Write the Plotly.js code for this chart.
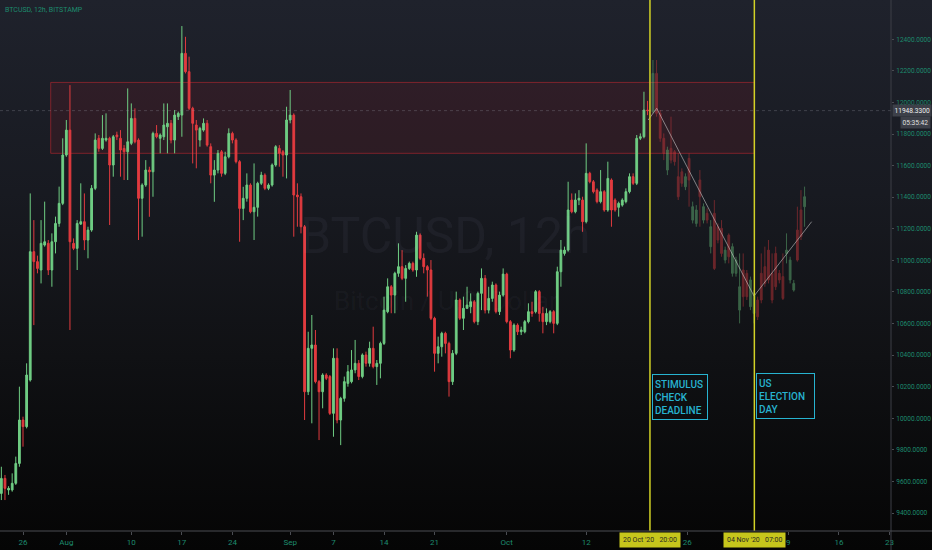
<!DOCTYPE html>
<html>
<head>
<meta charset="utf-8">
<script src="https://cdn.plot.ly/plotly-3.0.1.min.js"></script>
<style>
  html, body { margin: 0; padding: 0; background: #000; }
  #chart { width: 932px; height: 550px;
    background: linear-gradient(to bottom, #1f222c 0%, #181a21 35%, #101114 65%, #050505 100%); }
</style>
</head>
<body>
<div id="chart"></div>
<script>
// ---------- DATA (BITSTAMP BTCUSD, 12h bars, first bar 2020-07-23 00:00) ----------
const barOpen = [
  9524, 9619, 9546, 9546, 9588, 9714, 9989, 9947, 10242, 11055,
  10992, 10939, 11097, 11108, 10939, 11118, 11234, 11361, 11667, 11825,
  11108, 11076, 11230, 11245, 11129, 11192, 11456, 11773, 11709, 11762,
  11773, 11604, 11794, 11773, 11709, 11688, 11741, 11899, 11762, 11393,
  11477, 11572, 11561, 11804, 11773, 11783, 11846, 11868, 11762, 11910,
  11920, 12311, 12195, 11963, 11857, 11762, 11825, 11868, 11720, 11540,
  11572, 11688, 11551, 11656, 11804, 11762, 11625, 11329, 11393, 11477,
  11308, 11336, 11488, 11540, 11456, 11477, 11604, 11709, 11688, 11667,
  11889, 11920, 11414, 11403, 11213, 10168, 10443, 10464, 10232, 10168,
  10274, 10264, 10031, 10380, 9989, 10126, 10221, 10232, 10306, 10348,
  10264, 10401, 10348, 10443, 10327, 10348, 10474, 10675, 10833, 10780,
  10918, 10960, 10886, 10949, 10981, 10939, 11160, 11013, 10960, 10939,
  10633, 10411, 10453, 10538, 10474, 10232, 10411, 10749, 10633, 10696,
  10706, 10738, 10612, 10791, 10886, 10685, 10759, 10844, 10675, 10780,
  10913, 10612, 10432, 10590, 10548, 10548, 10612, 10675, 10675, 10802,
  10664, 10612, 10612, 10675, 10601, 10928, 11044, 11065, 11382, 11308,
  11382, 11382, 11245, 11551, 11498, 11445, 11372, 11435, 11319, 11509,
  11382, 11336, 11350, 11372, 11435, 11530, 11488, 11773, 11783, 11952
];
const barHigh = [
  9693, 9641, 9570, 9651, 9757, 10200, 10010, 10348, 11424, 11255,
  11030, 11255, 11372, 11129, 11171, 11277, 11467, 11773, 11889, 12110,
  11139, 11255, 11488, 11424, 11213, 11477, 11804, 11794, 11920, 11931,
  11783, 11794, 11815, 11825, 11730, 12089, 11994, 11963, 11773, 11488,
  11635, 11593, 11815, 11857, 11804, 11994, 11994, 11889, 11952, 11942,
  12484, 12416, 12290, 11973, 11889, 11846, 11899, 11889, 11741, 11635,
  11699, 11699, 11688, 11836, 11815, 11773, 11635, 11466, 11551, 11488,
  11614, 11498, 11561, 11551, 11488, 11614, 11730, 11730, 11699, 11973,
  12079, 11931, 11488, 11424, 11224, 10548, 10654, 10559, 10242, 10285,
  10285, 10274, 10443, 10443, 10136, 10264, 10337, 10432, 10496, 10369,
  10411, 10422, 10485, 10580, 10369, 10485, 10770, 10886, 10844, 10928,
  11108, 11065, 10970, 10992, 10992, 11181, 11171, 11044, 10970, 11002,
  10643, 10517, 10548, 10548, 10485, 10432, 10802, 10759, 10770, 10833,
  10791, 10749, 10802, 10949, 10907, 10833, 10865, 10854, 10802, 10949,
  10922, 10622, 10601, 10601, 10580, 10622, 10728, 10738, 10812, 10812,
  10706, 10696, 10685, 10685, 10960, 11129, 11087, 11498, 11424, 11424,
  11445, 11403, 11741, 11561, 11509, 11456, 11572, 11445, 11625, 11519,
  11393, 11372, 11393, 11456, 11551, 11551, 11794, 11804, 12068, 12010
];
const barLow = [
  9482, 9482, 9515, 9535, 9578, 9693, 9820, 9936, 10232, 10590,
  10918, 10854, 11087, 10907, 10833, 11044, 11213, 11350, 11656, 10559,
  11065, 10939, 11224, 11065, 11013, 11181, 11445, 11688, 11699, 11752,
  11224, 11530, 11762, 11530, 11509, 11509, 11730, 11741, 11129, 11150,
  11466, 11276, 11403, 11773, 11678, 11762, 11678, 11741, 11678, 11889,
  11783, 12184, 11952, 11614, 11583, 11720, 11815, 11720, 11488, 11371,
  11551, 11530, 11540, 11646, 11741, 11614, 11118, 11255, 11372, 11298,
  11129, 11277, 11477, 11445, 11445, 11467, 11593, 11593, 11530, 11519,
  11868, 11150, 11213, 11171, 9989, 10147, 9968, 10221, 9862, 10063,
  10242, 10021, 9883, 9968, 9830, 10105, 10200, 10221, 10285, 10242,
  10253, 10327, 10327, 10316, 10211, 10253, 10464, 10665, 10665, 10665,
  10896, 10875, 10738, 10939, 10928, 10896, 11002, 10918, 10770, 10622,
  10295, 10348, 10390, 10411, 10137, 10211, 10400, 10622, 10559, 10696,
  10665, 10601, 10590, 10685, 10664, 10664, 10738, 10664, 10654, 10770,
  10601, 10380, 10421, 10527, 10527, 10538, 10601, 10643, 10664, 10612,
  10538, 10590, 10601, 10538, 10590, 10833, 11030, 11055, 11298, 11298,
  11350, 11181, 11234, 11488, 11424, 11361, 11361, 11308, 11308, 11213,
  11308, 11277, 11340, 11361, 11424, 11477, 11477, 11762, 11773, 11920
];
const barClose = [
  9619, 9556, 9556, 9588, 9714, 9989, 9947, 10274, 11055, 10992,
  10949, 11108, 11118, 10939, 11118, 11234, 11361, 11667, 11825, 11118,
  11076, 11234, 11245, 11129, 11192, 11456, 11762, 11709, 11773, 11773,
  11604, 11783, 11783, 11699, 11688, 11751, 11899, 11751, 11393, 11477,
  11572, 11561, 11804, 11783, 11794, 11857, 11868, 11762, 11920, 11931,
  12311, 12195, 11963, 11868, 11825, 11836, 11868, 11730, 11540, 11572,
  11678, 11551, 11656, 11804, 11762, 11625, 11329, 11393, 11477, 11308,
  11336, 11488, 11540, 11456, 11477, 11604, 11720, 11678, 11667, 11889,
  11920, 11414, 11403, 11213, 10168, 10443, 10464, 10232, 10168, 10274,
  10253, 10031, 10380, 9989, 10126, 10232, 10295, 10306, 10348, 10264,
  10401, 10348, 10443, 10327, 10348, 10474, 10685, 10833, 10780, 10918,
  10960, 10886, 10949, 10981, 10939, 11160, 11013, 10960, 10939, 10633,
  10411, 10453, 10538, 10474, 10232, 10411, 10749, 10633, 10696, 10717,
  10738, 10612, 10791, 10886, 10685, 10759, 10844, 10675, 10780, 10913,
  10612, 10432, 10590, 10548, 10559, 10612, 10675, 10664, 10802, 10664,
  10612, 10664, 10675, 10601, 10928, 11065, 11065, 11319, 11308, 11382,
  11393, 11245, 11551, 11498, 11435, 11372, 11435, 11319, 11519, 11319,
  11319, 11361, 11382, 11435, 11530, 11488, 11773, 11783, 11952, 11948.33
];

// Bars-pattern projection (faded), first bar 2020-10-21 06:00
const projOpen = [11941, 12184, 11931, 11773, 11572, 11709, 11688, 11530, 11561, 11466, 11646, 11255, 11234, 11509, 11255, 11298, 11087, 11298, 11213, 11203, 11002, 11160, 10918, 10918, 10685, 10939, 10918, 10707, 10664, 10749, 10918, 10960, 11065, 10918, 11044, 10918, 10897, 11044, 10876, 10812, 11192, 11319, 11340];
const projHigh = [12269, 12269, 11952, 11804, 11720, 11910, 11699, 11678, 11583, 11551, 11678, 11372, 11350, 11572, 11361, 11329, 11255, 11382, 11234, 11255, 11087, 11171, 11108, 11023, 11044, 11044, 10939, 10897, 10812, 10770, 11044, 11087, 11129, 11044, 11087, 10939, 11044, 11171, 11023, 10876, 11340, 11445, 11467];
const projLow = [11931, 11910, 11751, 11635, 11540, 11614, 11600, 11382, 11466, 11445, 11340, 11234, 11213, 11213, 11234, 11234, 11044, 10939, 11108, 11023, 10981, 10981, 10897, 10897, 10601, 10707, 10749, 10685, 10601, 10622, 10728, 10833, 10854, 10728, 10812, 10854, 10749, 10981, 10854, 10802, 10992, 11129, 11213];
const projClose = [12184, 11931, 11773, 11678, 11699, 11635, 11625, 11403, 11488, 11530, 11509, 11340, 11319, 11403, 11340, 11255, 11213, 10949, 11129, 11044, 11065, 11023, 11087, 11002, 10833, 10770, 10770, 10876, 10791, 10643, 10749, 10854, 10876, 10749, 10833, 10876, 10759, 11065, 11002, 10854, 11002, 11150, 11403];

// Projection path drawing
const pathTimes = ['2020-10-20 14:00', '2020-10-21 18:30', '2020-11-04 06:00', '2020-11-12 05:30'];
const pathPrices = [11889, 11963, 10774, 11245];

// Resistance zone
const zoneStart = '2020-07-29 20:00', zoneEnd = '2020-11-04 07:00';
const zoneLow = 11678, zoneHigh = 12127;

// Events
const eventTimes = ['2020-10-20 20:00', '2020-11-04 07:00'];
const eventAxisLabels = ["20 Oct '20\u00a0\u00a0\u00a020:00", "04 Nov '20\u00a0\u00a0\u00a007:00"];
const eventNotes = ['STIMULUS<br>CHECK<br>DEADLINE', 'US<br>ELECTION<br>DAY'];
const eventNoteTimes = ['2020-10-21 03:00', '2020-11-04 12:30'];
const eventNotePrices = [10280, 10286];

const lastPrice = 11948.33;
const countdown = '05:35:42';

const xTickVals = ['2020-07-26','2020-08-01','2020-08-10','2020-08-17','2020-08-24','2020-09-01','2020-09-07','2020-09-14','2020-09-21','2020-10-01','2020-10-12','2020-10-26','2020-11-09','2020-11-16','2020-11-23'];
const xTickText = ['26','Aug','10','17','24','Sep','7','14','21','Oct','12','26','9','16','23'];
const yTickVals = [9400, 9600, 9800, 10000, 10200, 10400, 10600, 10800, 11000, 11200, 11400, 11600, 11800, 12000, 12200, 12400];

// ---------- BUILD ----------
const BAR = 12 * 3600 * 1000;
const realStart = Date.UTC(2020, 6, 23, 0, 0);
const projStart = Date.UTC(2020, 9, 21, 6, 0);
const fmt = ms => { const d = new Date(ms); const p = n => String(n).padStart(2, '0');
  return `${d.getUTCFullYear()}-${p(d.getUTCMonth()+1)}-${p(d.getUTCDate())} ${p(d.getUTCHours())}:${p(d.getUTCMinutes())}`; };
const realTimes = barOpen.map((_, i) => fmt(realStart + i * BAR));
const projTimes = projOpen.map((_, i) => fmt(projStart + i * BAR));

const FONT = "Roboto, 'Liberation Sans', sans-serif";
const TEAL = '#1d8b6d';
const GREEN = '#6fcd83', RED = '#e23b3f';
const YELLOW = '#d2d226', CYAN = '#27b3d0';

const traces = [
  { type: 'candlestick', x: realTimes, open: barOpen, high: barHigh, low: barLow, close: barClose,
    increasing: { line: { color: GREEN, width: 1 }, fillcolor: GREEN },
    decreasing: { line: { color: RED, width: 1 }, fillcolor: RED },
    whiskerwidth: 0, hoverinfo: 'skip', showlegend: false },
  { type: 'candlestick', x: projTimes, open: projOpen, high: projHigh, low: projLow, close: projClose,
    increasing: { line: { color: GREEN, width: 1 }, fillcolor: GREEN },
    decreasing: { line: { color: RED, width: 1 }, fillcolor: RED },
    opacity: 0.42, whiskerwidth: 0, hoverinfo: 'skip', showlegend: false },
  { type: 'scatter', mode: 'lines', x: pathTimes, y: pathPrices,
    line: { color: 'rgba(215,215,215,0.55)', width: 1 }, hoverinfo: 'skip', showlegend: false }
];

const shapes = [
  { type: 'rect', layer: 'below', xref: 'x', yref: 'y', x0: zoneStart, x1: zoneEnd, y0: zoneLow, y1: zoneHigh,
    fillcolor: 'rgba(160,30,40,0.14)', line: { color: 'rgba(200,40,50,0.55)', width: 1 } },
  { type: 'line', xref: 'paper', yref: 'y', x0: 0, x1: 1, y0: lastPrice, y1: lastPrice,
    line: { color: 'rgba(150,150,160,0.3)', width: 1, dash: 'dot' } },
  ...eventTimes.map(t => ({ type: 'line', xref: 'x', yref: 'paper', x0: t, x1: t, y0: 0, y1: 1,
    line: { color: YELLOW, width: 1.5 } })),
  { type: 'line', xref: 'paper', yref: 'paper', x0: 1, x1: 1, y0: -0.04, y1: 1, line: { color: '#3c3f46', width: 1 } },
  { type: 'line', xref: 'paper', yref: 'paper', x0: 0, x1: 1.05, y0: 0, y1: 0, line: { color: '#4a4c52', width: 1 } }
];

const annotations = [
  { xref: 'paper', yref: 'paper', x: 0.5, y: 0.556, text: 'BTCUSD, 12h', showarrow: false,
    font: { family: FONT, size: 50, color: 'rgba(190,205,230,0.05)' } },
  { xref: 'paper', yref: 'paper', x: 0.5, y: 0.433, text: 'Bitcoin / U.S. Dollar', showarrow: false,
    font: { family: FONT, size: 26, color: 'rgba(190,205,230,0.05)' } },
  { xref: 'paper', yref: 'paper', x: 0, y: 1, xanchor: 'left', yanchor: 'top', xshift: 3, yshift: -4,
    text: 'BTCUSD, 12h, BITSTAMP', showarrow: false, font: { family: FONT, size: 7, color: TEAL } },
  ...eventTimes.map((t, i) => ({ xref: 'x', yref: 'paper', x: t, y: 0, xanchor: 'center', yanchor: 'top', yshift: -1,
    text: eventAxisLabels[i], showarrow: false, bgcolor: '#c6c61c', borderpad: 3,
    font: { family: FONT, size: 7, color: '#2a2a22' } })),
  ...eventNotes.map((txt, i) => ({ xref: 'x', yref: 'y', x: eventNoteTimes[i], y: eventNotePrices[i],
    xanchor: 'left', yanchor: 'top', text: txt, showarrow: false, align: 'left',
    width: i === 0 ? 50 : 53, height: 40, borderpad: 2, bordercolor: CYAN, borderwidth: 1,
    font: { family: FONT, size: 10, color: CYAN, weight: 500 } })),
  { xref: 'paper', yref: 'y', x: 1, y: lastPrice, xanchor: 'left', yanchor: 'middle', xshift: 1,
    text: lastPrice.toFixed(4), showarrow: false, bgcolor: '#3d4049', borderpad: 1.5,
    font: { family: FONT, size: 6.6, color: '#f0f0f0' } },
  { xref: 'paper', yref: 'y', x: 1, y: lastPrice, xanchor: 'left', yanchor: 'middle', xshift: 9, yshift: -12,
    text: countdown, showarrow: false, bgcolor: '#3d4049', borderpad: 1.5,
    font: { family: FONT, size: 6.6, color: '#e0e0e0' } }
];

const layout = {
  width: 932, height: 550,
  margin: { l: 0, r: 41, t: 0, b: 19, pad: 0 },
  paper_bgcolor: 'rgba(0,0,0,0)', plot_bgcolor: 'rgba(0,0,0,0)',
  showlegend: false, hovermode: false, dragmode: false,
  xaxis: { type: 'date', range: ['2020-07-22 19:30', '2020-11-23 05:15'],
    tickvals: xTickVals, ticktext: xTickText, tickangle: 0,
    tickfont: { family: FONT, size: 8, color: TEAL },
    ticks: 'outside', ticklen: 3, tickcolor: '#4a4c52',
    showgrid: false, zeroline: false, showline: false,
    rangeslider: { visible: false }, fixedrange: true },
  yaxis: { side: 'right', range: [9286, 12649],
    tickvals: yTickVals, tickformat: '.4f',
    tickfont: { family: FONT, size: 6.5, color: TEAL },
    ticks: 'outside', ticklen: 2, tickcolor: '#4a4c52', ticklabelstandoff: 1,
    showgrid: false, zeroline: false, showline: false, fixedrange: true },
  shapes, annotations
};

Plotly.newPlot('chart', traces, layout, { displayModeBar: false, staticPlot: true });
</script>
</body>
</html>
